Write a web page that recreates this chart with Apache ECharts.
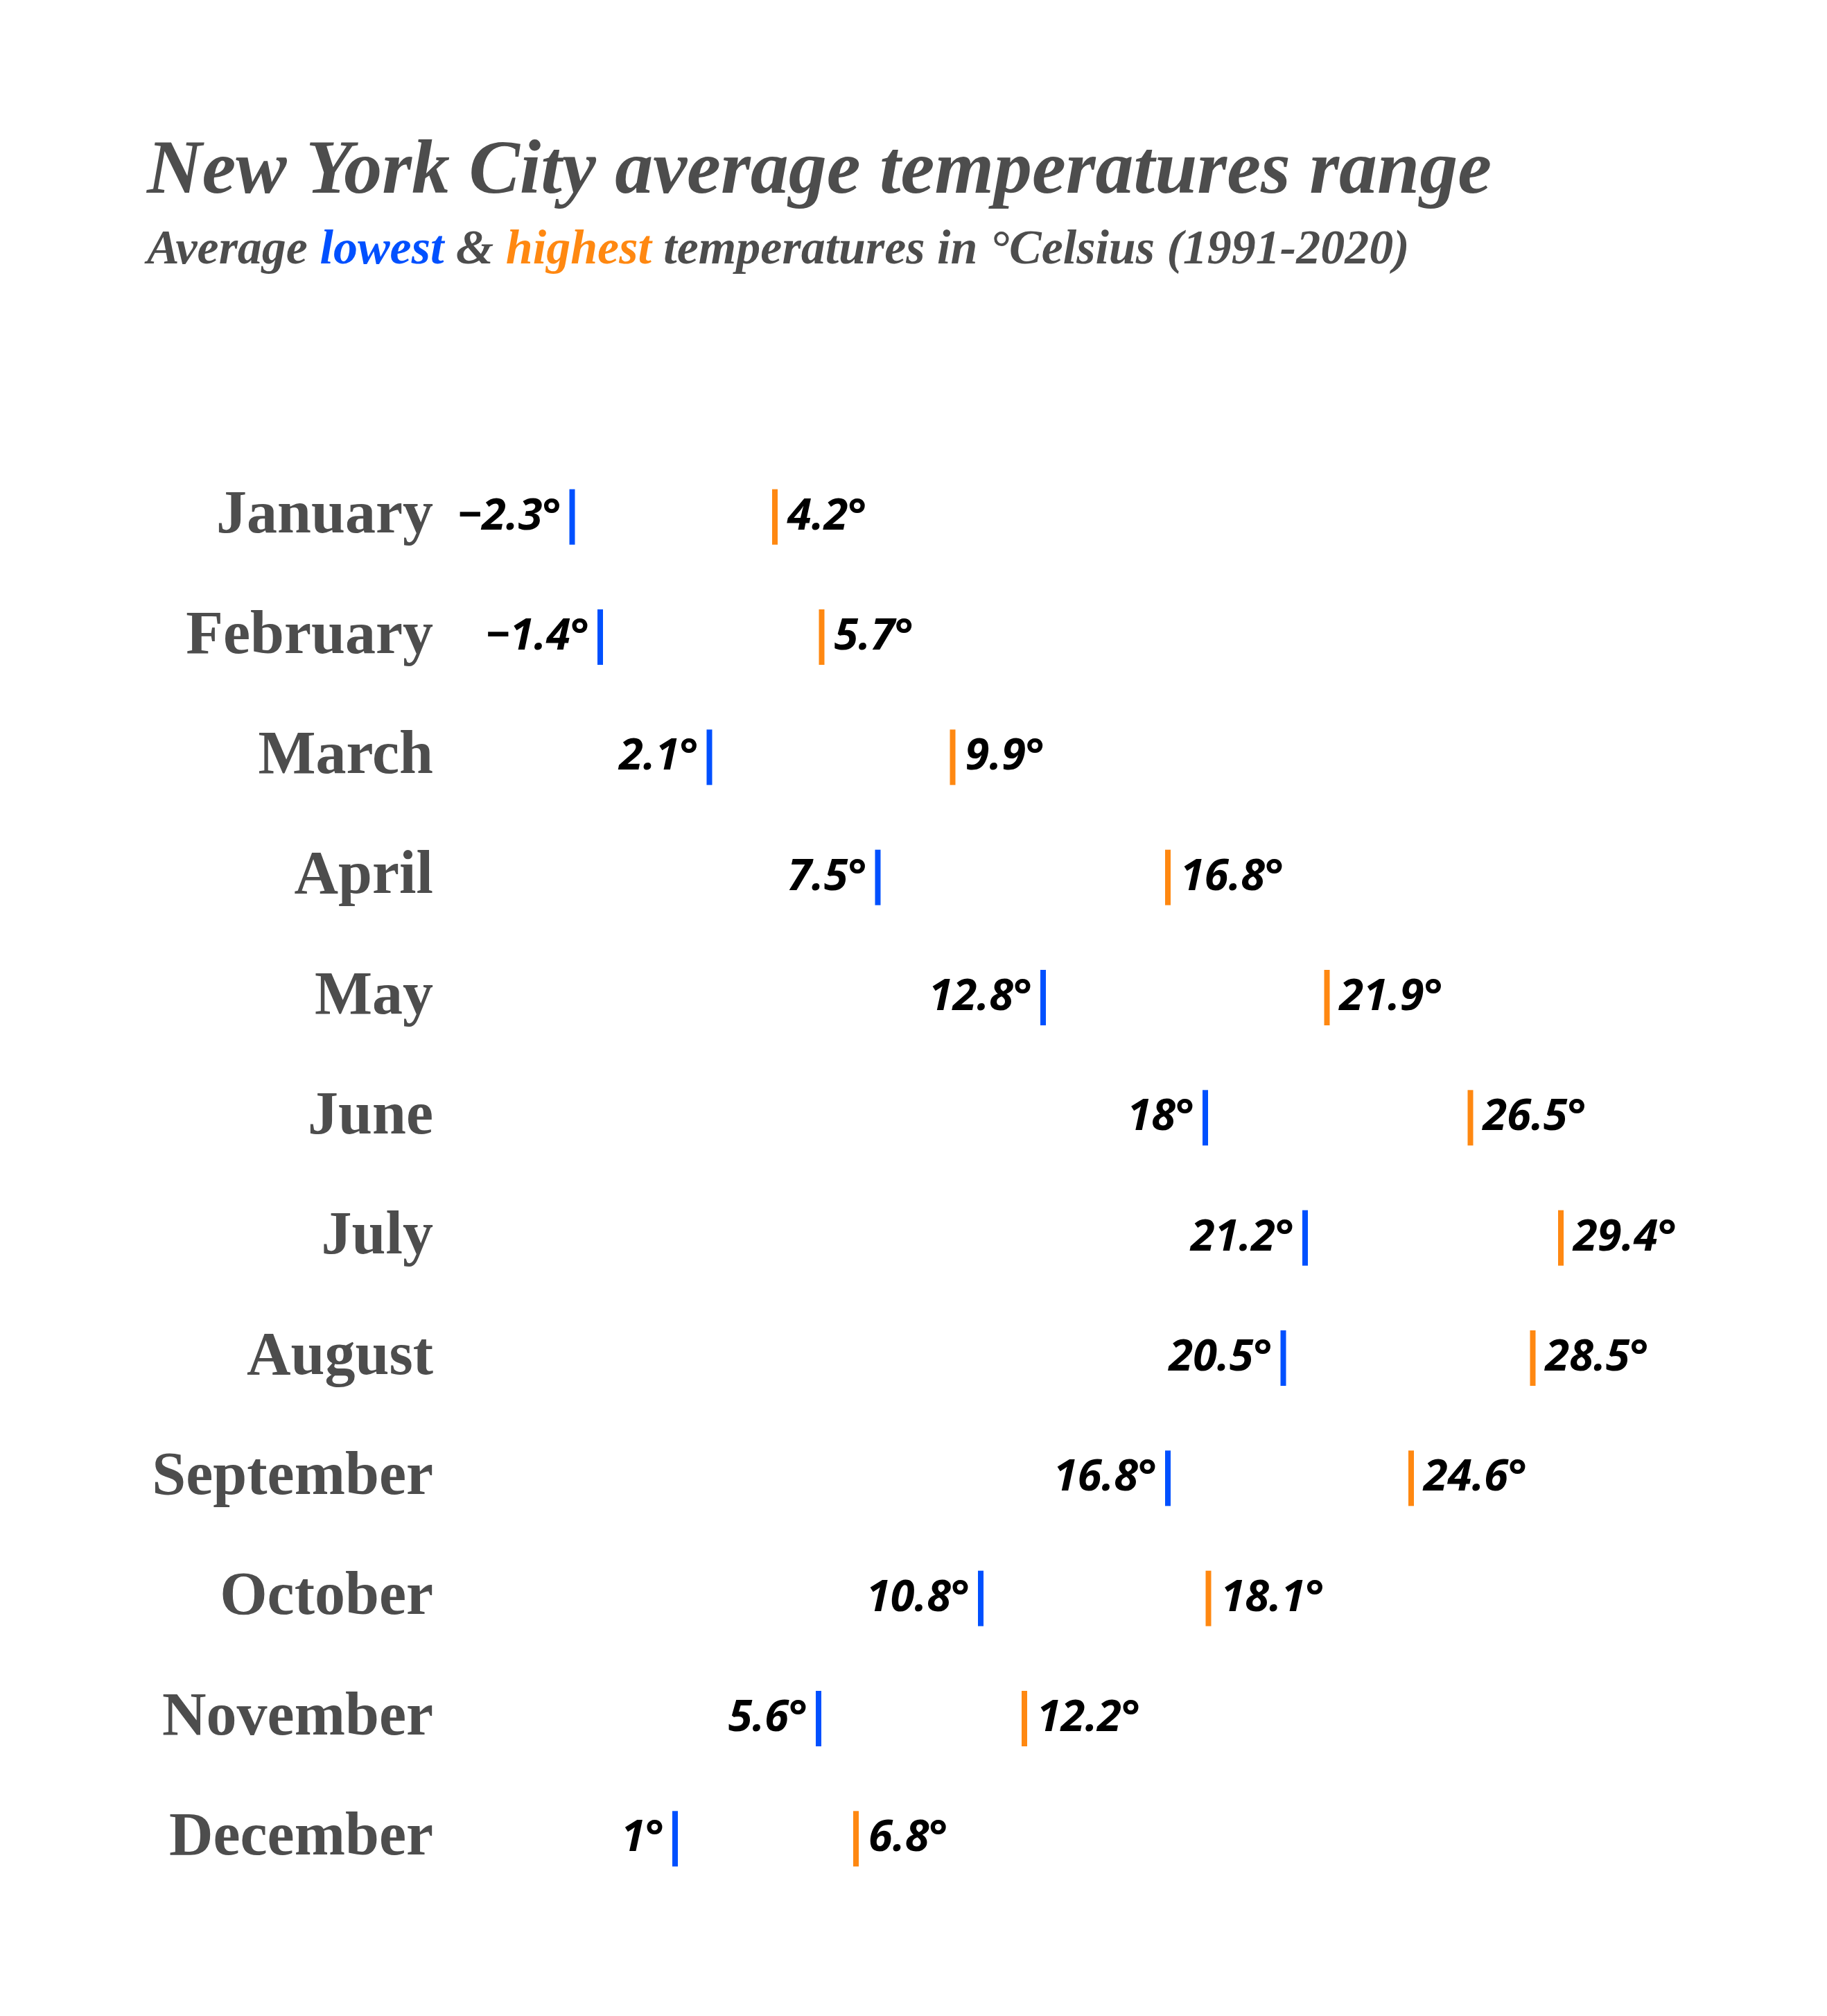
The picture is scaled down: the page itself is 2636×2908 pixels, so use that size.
<!DOCTYPE html>
<html>
<head>
<meta charset="utf-8">
<script src="https://cdn.jsdelivr.net/npm/echarts@6/dist/echarts.min.js"></script>
<style>html,body{margin:0;padding:0;background:#fff;}#c{width:2636px;height:2908px;}</style>
</head>
<body>
<div id="c"></div>
<script>
var months = ['January','February','March','April','May','June','July','August','September','October','November','December'];
var lowest = [-2.3, -1.4, 2.1, 7.5, 12.8, 18, 21.2, 20.5, 16.8, 10.8, 5.6, 1];
var highest = [4.2, 5.7, 9.9, 16.8, 21.9, 26.5, 29.4, 28.5, 24.6, 18.1, 12.2, 6.8];

var BLUE = '#0050FF', ORANGE = '#FF8811', GREY = '#4d4d4d';
function fmt(p) {
  var v = p.value[0];
  var s = (v < 0 ? '\u2212' + Math.abs(v) : String(v));
  return s + '°';
}
var labelFont = {fontFamily: 'Open Sans', fontWeight: 'bold', fontStyle: 'italic', fontSize: 63, color: '#000', opacity: 1};
var subFont = {fontFamily: 'Liberation Serif', fontWeight: 'bold', fontStyle: 'italic', fontSize: 70};

var chart = echarts.init(document.getElementById('c'));
chart.setOption({
  backgroundColor: '#fff',
  animation: false,
  title: {
    left: 207, top: 190,
    text: 'New York City average temperatures range',
    textStyle: {fontFamily: 'Liberation Serif', fontWeight: 'bold', fontStyle: 'italic', fontSize: 110, color: GREY},
    subtext: '{a|Average }{b|lowest}{a| & }{c|highest}{a| temperatures in °Celsius (1991-2020)}',
    itemGap: 22,
    subtextStyle: Object.assign({color: GREY, rich: {
      a: Object.assign({color: GREY}, subFont),
      b: Object.assign({color: BLUE}, subFont),
      c: Object.assign({color: ORANGE}, subFont)
    }}, subFont)
  },
  grid: {left: 650, right: 132, top: 659, bottom: 169, containLabel: false},
  xAxis: {type: 'value', min: -6.2, max: 35, show: false, splitLine: {show: false}},
  yAxis: {
    type: 'category', data: months, inverse: true,
    axisLine: {show: false}, axisTick: {show: false}, splitLine: {show: false},
    axisLabel: {margin: 25, fontFamily: 'Liberation Serif', fontWeight: 'bold', fontSize: 88, color: GREY}
  },
  series: [
    {
      type: 'scatter', name: 'lowest', symbol: 'rect', symbolSize: [8, 80],
      itemStyle: {color: BLUE, opacity: 1},
      data: lowest.map(function (v, i) { return [v, months[i]]; }),
      label: Object.assign({show: true, position: 'left', distance: 12, formatter: fmt}, labelFont)
    },
    {
      type: 'scatter', name: 'highest', symbol: 'rect', symbolSize: [8, 80],
      itemStyle: {color: ORANGE, opacity: 1},
      data: highest.map(function (v, i) { return [v, months[i]]; }),
      label: Object.assign({show: true, position: 'right', distance: 14, formatter: fmt}, labelFont)
    }
  ]
});
</script>
</body>
</html>
